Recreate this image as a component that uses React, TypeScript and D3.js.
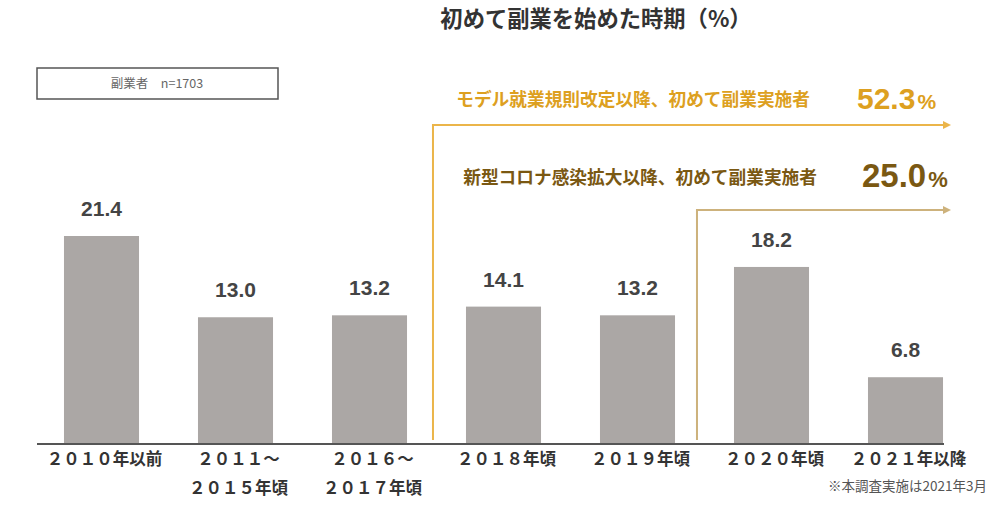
import React from "react";
import * as d3 from "d3";

const categories: string[][] = [
  ["２０１０年以前"],
  ["２０１１～", "２０１５年頃"],
  ["２０１６～", "２０１７年頃"],
  ["２０１８年頃"],
  ["２０１９年頃"],
  ["２０２０年頃"],
  ["２０２１年以降"],
];
const values: number[] = [21.4, 13.0, 13.2, 14.1, 13.2, 18.2, 6.8];
const title = "初めて副業を始めた時期（%）";
const legendText = "副業者　n=1703";
const note = "※本調査実施は2021年3月";
const annotationFrom: number[] = [3, 5];
const annotationTexts: string[] = [
  "モデル就業規則改定以降、初めて副業実施者",
  "新型コロナ感染拡大以降、初めて副業実施者",
];
const annotationValues: string[] = ["52.3", "25.0"];

const W = 1008;
const H = 510;
const FONT = "'Liberation Sans', 'Noto Sans CJK JP', sans-serif";
const JP = "'Noto Sans CJK JP', sans-serif";

export default function App() {
  const x = d3
    .scaleBand<number>()
    .domain(values.map((_, i) => i))
    .range([34.5, 972.5])
    .paddingInner(0.44)
    .paddingOuter(0.22);
  const baseY = 443;
  const y = d3.scaleLinear().domain([0, 21.4]).range([baseY, 236]);

  const annStyles = [
    { line: "#EBB54A", text: "#DDA020", size: 30, pct: 21, tsize: 17.7, lineY: 125, lineDx: -33, textX: 810, textY: 106, numX: 857, numY: 109 },
    { line: "#CDB27C", text: "#7A5812", size: 33, pct: 22, tsize: 17.7, lineY: 210, lineDx: -37, textX: 817, textY: 184, numX: 862, numY: 187 },
  ];

  return (
    <svg
      width={W}
      height={H}
      style={{ position: "absolute", left: 0, top: 0, background: "#fff" }}
    >
      <text x={596} y={27} textAnchor="middle" fontFamily={JP} fontWeight={700} fontSize={22.3} fill="#333">
        {title}
      </text>
      <rect x={37} y={68} width={241} height={31} fill="none" stroke="#555" strokeWidth={1.5} />
      <text x={157} y={88} textAnchor="middle" fontFamily={JP} fontSize={12.5} fill="#666">
        {legendText}
      </text>

      {values.map((v, i) => (
        <g key={i}>
          <rect x={x(i)} y={y(v)} width={x.bandwidth()} height={baseY - y(v)} fill="#ABA7A5" />
          <text
            x={(x(i) as number) + x.bandwidth() / 2}
            y={y(v) - 20}
            textAnchor="middle"
            fontFamily={FONT}
            fontWeight={700}
            fontSize={21}
            fill="#444"
          >
            {v.toFixed(1)}
          </text>
          {categories[i].map((line, j) => (
            <text
              key={j}
              x={(x(i) as number) + x.bandwidth() / 2 + 3}
              y={465 + j * 29}
              textAnchor="middle"
              fontFamily={JP}
              fontWeight={700}
              fontSize={16.5}
              fill="#333"
            >
              {line}
            </text>
          ))}
        </g>
      ))}

      {annotationFrom.map((from, k) => {
        const st = annStyles[k];
        const lx = (x(from) as number) + st.lineDx;
        return (
          <g key={k}>
            <path d={`M${lx},440 V${st.lineY} H944`} fill="none" stroke={st.line} strokeWidth={2} />
            <path d={`M943,${st.lineY - 4} L951,${st.lineY} L943,${st.lineY + 4} Z`} fill={st.line} />
            <text
              x={st.textX}
              y={st.textY}
              textAnchor="end"
              fontFamily={JP}
              fontWeight={700}
              fontSize={st.tsize}
              fill={st.text}
            >
              {annotationTexts[k]}
            </text>
            <text
              x={st.numX}
              y={st.numY}
              fontFamily={FONT}
              fontWeight={700}
              fontSize={st.size}
              fill={st.text}
            >
              {annotationValues[k]}
              <tspan dx={2} fontSize={st.pct}>%</tspan>
            </text>
          </g>
        );
      })}

      <line x1={37} x2={944} y1={444} y2={444} stroke="#555" strokeWidth={2} />
      <text x={987} y={491} textAnchor="end" fontFamily={JP} fontSize={13.5} fill="#555">
        {note}
      </text>
    </svg>
  );
}
